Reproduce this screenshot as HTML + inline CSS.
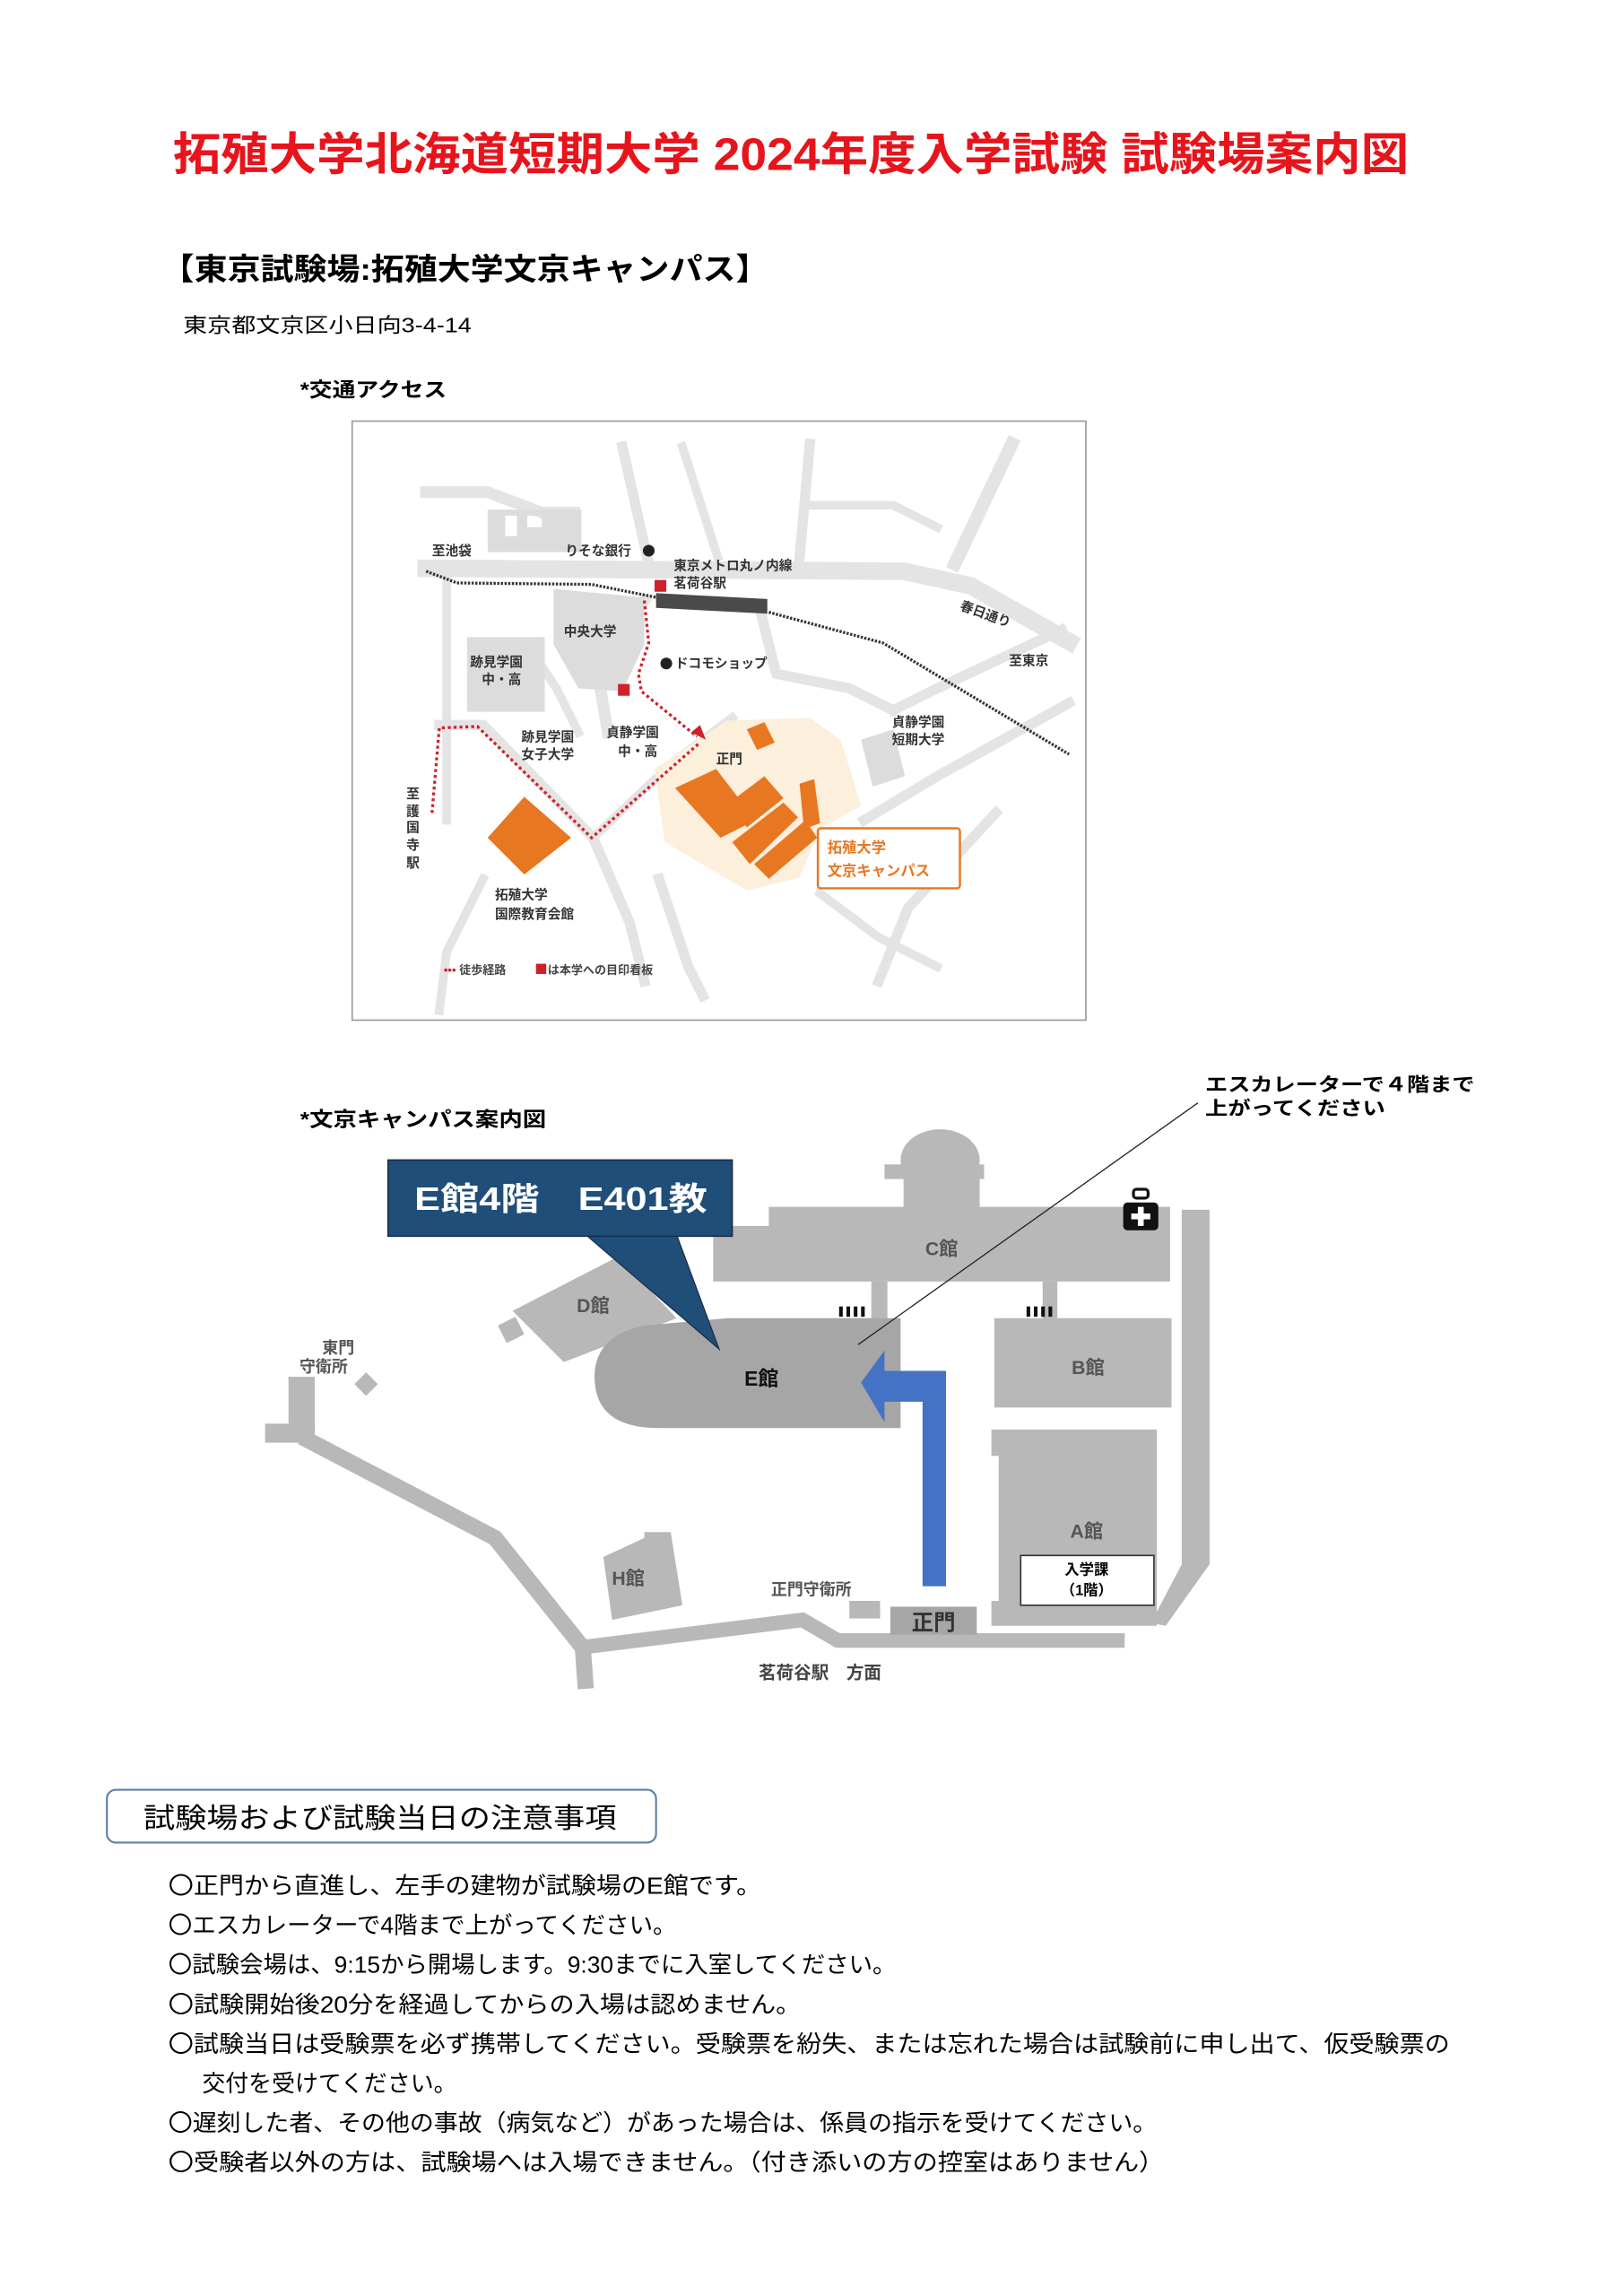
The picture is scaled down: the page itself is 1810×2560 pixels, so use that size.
<!DOCTYPE html>
<html><head><meta charset="utf-8">
<style>
html,body{margin:0;padding:0;background:#fff;}
svg{display:block;}
text{font-family:"Liberation Sans","Noto Sans CJK JP",sans-serif;}
</style></head>
<body>
<svg width="1810" height="2560" viewBox="0 0 1108.3 1567.6" preserveAspectRatio="none" xmlns="http://www.w3.org/2000/svg">
<rect width="1110" height="1570" fill="#fff"/>
<!-- Title -->
<text x="118" y="116" font-size="31" font-weight="bold" fill="#e8141c" textLength="844" lengthAdjust="spacingAndGlyphs">拓殖大学北海道短期大学 2024年度入学試験 試験場案内図</text>
<text x="110" y="191" font-size="21" font-weight="bold" fill="#000" textLength="415" lengthAdjust="spacingAndGlyphs">【東京試験場:拓殖大学文京キャンパス】</text>
<text x="125" y="227" font-size="14" fill="#000" textLength="197" lengthAdjust="spacingAndGlyphs">東京都文京区小日向3-4-14</text>
<text x="205" y="271" font-size="14" font-weight="bold" fill="#000" textLength="100" lengthAdjust="spacingAndGlyphs">*交通アクセス</text>

<!-- Access map -->
<rect x="240.5" y="287.5" width="501" height="409" fill="#fff" stroke="#999" stroke-width="1"/>
<g stroke="#e4e4e4" fill="none" stroke-linecap="square" stroke-linejoin="round">
  <polyline points="291,388 617,390 663,400 730,438" stroke-width="12"/>
  <polyline points="291,336 333,336 370,350 392,350" stroke-width="8"/>
  <polyline points="425,305 443,385" stroke-width="7"/>
  <polyline points="466,305 490,380" stroke-width="6"/>
  <polyline points="553,303 546,381" stroke-width="7"/>
  <polyline points="691,303 652,385" stroke-width="9"/>
  <polyline points="553,345 610,345 640,360" stroke-width="6"/>
  <polyline points="305,395 305,560" stroke-width="6"/>
  <polyline points="440,410 420,440 410,470 415,500" stroke-width="8"/>
  <polyline points="300,495 330,495 405,572 430,630 440,670" stroke-width="7"/>
  <polyline points="405,572 460,520 500,490" stroke-width="6"/>
  <polyline points="520,420 530,460 580,470 610,485" stroke-width="7"/>
  <polyline points="610,485 640,470 725,430" stroke-width="7"/>
  <polyline points="730,480 640,530 590,560" stroke-width="7"/>
  <polyline points="680,555 620,620 600,670" stroke-width="7"/>
  <polyline points="450,600 470,660 480,680" stroke-width="7"/>
  <polyline points="330,600 305,650 300,690" stroke-width="6"/>
  <polyline points="560,610 600,640 640,660" stroke-width="6"/>
  <polyline points="360,440 380,470 395,500" stroke-width="6"/>
</g>
<g fill="#dcdcdc">
  <path d="M333,348 h64 v29 h-64z M345,352 v14 h8 v-14z M360,352 v8 h10 v-8z" fill-rule="evenodd"/>
  <rect x="319" y="435" width="53" height="51"/>
  <polygon points="378,402 440,408 440,440 425,472 395,470 378,440"/>
  <polygon points="588,505 610,498 618,530 596,537"/>
</g>
<polygon points="447,525 496,492 553,490 574,505 588,550 560,566 546,599 510,608 454,575" fill="#fcefdc"/>
<g fill="#e87722">
  <polygon points="510,498 522,493 529,507 517,512"/>
  <polygon points="461,538 489,525 516,560 492,572"/>
  <polygon points="498,548 522,530 535,545 510,565"/>
  <polygon points="500,575 535,548 545,558 512,590"/>
  <polygon points="515,590 550,560 558,572 525,600"/>
  <polygon points="546,535 556,532 560,562 549,566"/>
  <polygon points="333,572 358,544 390,572 358,597"/>
</g>
<polyline points="291,390 312,398 404,399 449,408" fill="none" stroke="#333" stroke-width="2" stroke-dasharray="1.5,1"/>
<polyline points="525,418 603,439 730,515" fill="none" stroke="#333" stroke-width="2" stroke-dasharray="1.5,1"/>
<polygon points="448,405 524,409 524,419 448,415" fill="#4a4a4a"/>
<g fill="none" stroke="#d0202a" stroke-width="2" stroke-dasharray="2,2">
  <polyline points="295,555 300,497 326,496 404,572 478,507"/>
  <polyline points="440,410 443,439 436,460 438,472 476,503"/>
</g>
<polygon points="482,505 472,500 478,495" fill="#d0202a"/>
<rect x="447" y="396" width="8" height="8" fill="#d0202a"/>
<rect x="422" y="467" width="8" height="8" fill="#d0202a"/>
<g font-size="9" fill="#333" font-weight="bold">
  <text x="295" y="379">至池袋</text>
  <text x="386" y="379">りそな銀行</text>
  <circle cx="443" cy="376" r="4" fill="#222"/>
  <text x="460" y="389">東京メトロ丸ノ内線</text>
  <text x="460" y="401">茗荷谷駅</text>
  <text x="655" y="416" transform="rotate(20 655 416)">春日通り</text>
  <text x="689" y="454">至東京</text>
  <text x="385" y="434">中央大学</text>
  <text x="321" y="455">跡見学園</text>
  <text x="329" y="467">中・高</text>
  <circle cx="455" cy="453" r="4" fill="#222"/>
  <text x="461" y="456">ドコモショップ</text>
  <text x="356" y="506">跡見学園</text>
  <text x="356" y="518">女子大学</text>
  <text x="414" y="503">貞静学園</text>
  <text x="422" y="516">中・高</text>
  <text x="489" y="521">正門</text>
  <text x="609" y="496">貞静学園</text>
  <text x="609" y="508">短期大学</text>
  <text x="338" y="614">拓殖大学</text>
  <text x="338" y="627">国際教育会館</text>
</g>
<g font-size="9" fill="#333" font-weight="bold" text-anchor="middle">
  <text x="282" y="545">至</text><text x="282" y="557">護</text><text x="282" y="568">国</text><text x="282" y="580">寺</text><text x="282" y="592">駅</text>
</g>
<rect x="558.5" y="565.5" width="97" height="41" rx="2" fill="#fff" stroke="#e87722" stroke-width="1.5"/>
<text x="565" y="582" font-size="10" font-weight="bold" fill="#e87722">拓殖大学</text>
<text x="565" y="598" font-size="10" font-weight="bold" fill="#e87722">文京キャンパス</text>
<text x="303" y="665" font-size="8" font-weight="bold" fill="#444"><tspan fill="#d0202a">•••</tspan> 徒歩経路</text>
<rect x="366" y="658" width="7" height="7" fill="#d0202a"/>
<text x="374" y="665" font-size="8" font-weight="bold" fill="#444">は本学への目印看板</text>

<!-- Campus map -->
<text x="205" y="769" font-size="14" font-weight="bold" fill="#000" textLength="168" lengthAdjust="spacingAndGlyphs">*文京キャンパス案内図</text>
<text x="823" y="745" font-size="13" font-weight="bold" fill="#000" textLength="184" lengthAdjust="spacingAndGlyphs">エスカレーターで４階まで</text>
<text x="823" y="761" font-size="13" font-weight="bold" fill="#000" textLength="123" lengthAdjust="spacingAndGlyphs">上がってください</text>

<g fill="#b8b8b8">
  <rect x="197" y="940" width="18" height="38"/>
  <rect x="181" y="972" width="34" height="13"/>
  <polygon points="250,937 258,945 250,953 242,945"/>
  <ellipse cx="642" cy="792" rx="27" ry="21"/>
  <rect x="604" y="795" width="68" height="10"/>
  <rect x="617" y="800" width="52" height="28"/>
  <polygon points="487,837 525,837 525,824 799,824 799,875 487,875"/>
  <rect x="595" y="875" width="11" height="27"/>
  <rect x="712" y="875" width="10" height="27"/>
  <rect x="679" y="900" width="121" height="61"/>
  <polygon points="677,976 790,976 790,1110 677,1110 677,1093 682,1093 682,994 677,994"/>
  <polygon points="807,826 826,826 826,1068 796,1110 786,1108 807,1068"/>
  <polygon points="350,895 422,858 462,900 385,930"/>
  <polygon points="340,905 352,899 358,911 346,917"/>
  <polygon points="412,1063 440,1050 440,1046 458,1046 466,1096 418,1106"/>
  <rect x="580" y="1093" width="21" height="12"/>
</g>
<g fill="none" stroke="#b8b8b8" stroke-linejoin="miter">
  <polyline points="206,981 338,1050 398,1125 400,1153" stroke-width="11"/>
  <polyline points="395,1125 548,1106 572,1120 768,1120" stroke-width="10"/>
</g>
<rect x="608" y="1097" width="59" height="19" fill="#a6a6a6"/>
<text x="637.5" y="1113" font-size="15" font-weight="bold" fill="#333" text-anchor="middle">正門</text>
<path d="M497,900 L615,900 L615,975 L450,975 Q406,975 406,940 Q406,912 440,905 Z" fill="#a6a6a6"/>
<text x="520" y="946" font-size="14" font-weight="bold" fill="#111" text-anchor="middle">E館</text>
<g fill="#111">
  <rect x="573" y="892" width="2.5" height="7"/><rect x="578" y="892" width="2.5" height="7"/><rect x="583" y="892" width="2.5" height="7"/><rect x="588" y="892" width="2.5" height="7"/>
  <rect x="701" y="892" width="2.5" height="7"/><rect x="706" y="892" width="2.5" height="7"/><rect x="711" y="892" width="2.5" height="7"/><rect x="716" y="892" width="2.5" height="7"/>
</g>
<rect x="767" y="821" width="24" height="19" rx="3" fill="#111"/>
<rect x="774" y="812" width="10" height="6" rx="2" fill="none" stroke="#111" stroke-width="2"/>
<rect x="777" y="824" width="4" height="13" fill="#fff"/><rect x="772.5" y="828.5" width="13" height="4" fill="#fff"/>
<g font-size="13" font-weight="bold" fill="#555" text-anchor="middle">
  <text x="643" y="857">C館</text>
  <text x="743" y="938">B館</text>
  <text x="742" y="1050">A館</text>
  <text x="405" y="896">D館</text>
  <text x="429" y="1082">H館</text>
  <text x="231" y="924" font-size="11">東門</text>
  <text x="221" y="937" font-size="11">守衛所</text>
  <text x="554" y="1089" font-size="11">正門守衛所</text>
</g>
<text x="518" y="1146" font-size="12" font-weight="bold" fill="#444">茗荷谷駅　方面</text>
<rect x="697" y="1062" width="91" height="34" fill="#fff" stroke="#333" stroke-width="1"/>
<text x="742" y="1075" font-size="10" font-weight="bold" fill="#000" text-anchor="middle">入学課</text>
<text x="742" y="1089" font-size="10" font-weight="bold" fill="#000" text-anchor="middle">（1階）</text>
<polygon points="646,1083 630,1083 630,957 604,957 604,971 588,944 604,922 604,936 646,936" fill="#4472c4"/>
<line x1="818" y1="753" x2="586" y2="918" stroke="#222" stroke-width="0.8"/>
<polygon points="400,843 462,843 491,921" fill="#1f4e79" stroke="#1a2f4a" stroke-width="0.8"/>
<rect x="265" y="792" width="235" height="52" fill="#1f4e79" stroke="#1a2f4a" stroke-width="1"/>
<text x="283" y="826" font-size="22" font-weight="bold" fill="#fff" textLength="200" lengthAdjust="spacingAndGlyphs">E館4階　E401教</text>

<!-- Notes -->
<rect x="73" y="1222" width="375" height="36" rx="6" fill="#fff" stroke="#5b7fa6" stroke-width="1.3"/>
<text x="98" y="1248" font-size="19" fill="#000" textLength="323" lengthAdjust="spacingAndGlyphs">試験場および試験当日の注意事項</text>
<g font-size="16" fill="#000">
  <text x="115" y="1293" textLength="405" lengthAdjust="spacingAndGlyphs">〇正門から直進し、左手の建物が試験場のE館です。</text>
  <text x="115" y="1320" textLength="347" lengthAdjust="spacingAndGlyphs">〇エスカレーターで4階まで上がってください。</text>
  <text x="115" y="1347" textLength="497" lengthAdjust="spacingAndGlyphs">〇試験会場は、9:15から開場します。9:30までに入室してください。</text>
  <text x="115" y="1374" textLength="432" lengthAdjust="spacingAndGlyphs">〇試験開始後20分を経過してからの入場は認めません。</text>
  <text x="115" y="1401" textLength="875" lengthAdjust="spacingAndGlyphs">〇試験当日は受験票を必ず携帯してください。受験票を紛失、または忘れた場合は試験前に申し出て、仮受験票の</text>
  <text x="138" y="1428" textLength="174" lengthAdjust="spacingAndGlyphs">交付を受けてください。</text>
  <text x="115" y="1455" textLength="675" lengthAdjust="spacingAndGlyphs">〇遅刻した者、その他の事故（病気など）があった場合は、係員の指示を受けてください。</text>
  <text x="115" y="1482" textLength="680" lengthAdjust="spacingAndGlyphs">〇受験者以外の方は、試験場へは入場できません。（付き添いの方の控室はありません）</text>
</g>
</svg>
</body></html>
